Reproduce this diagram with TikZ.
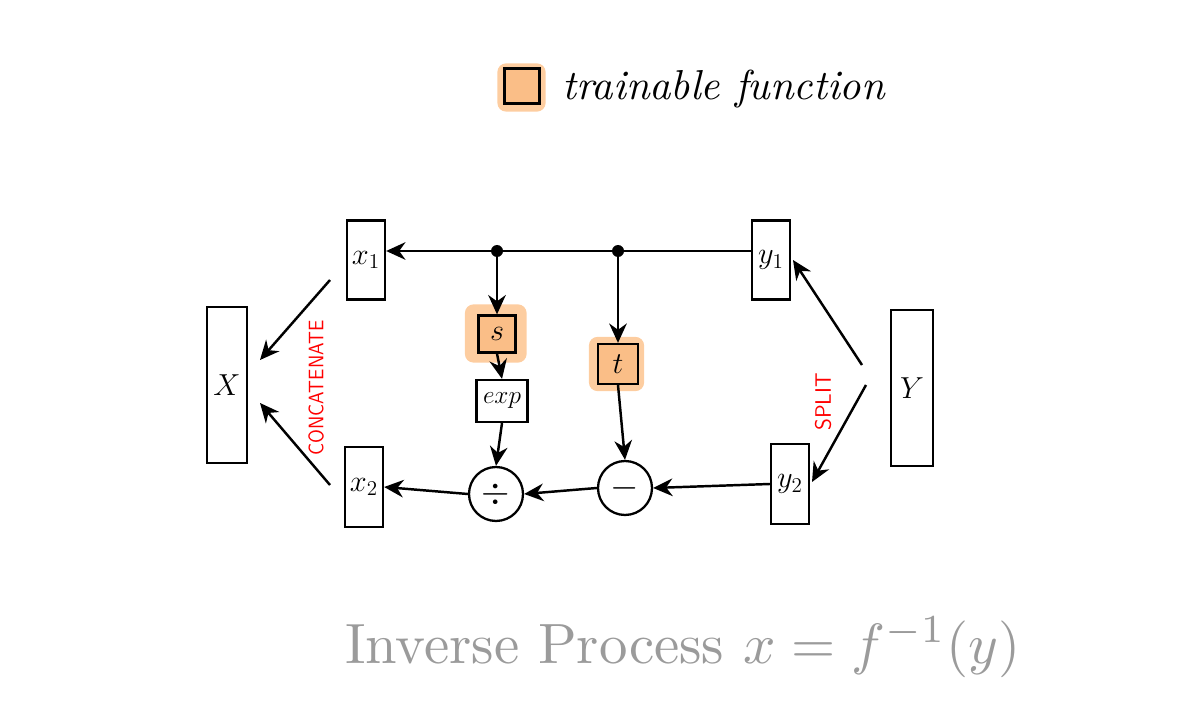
\documentclass[tikz,border=0pt]{standalone}
\usetikzlibrary{arrows.meta,backgrounds,calc}
\definecolor{orng}{RGB}{250,190,135}
\definecolor{halo}{RGB}{253,205,160}
\definecolor{txtgray}{RGB}{155,155,155}
\begin{document}
\begin{tikzpicture}[x=0.02cm,y=-0.02cm,
 box/.style={draw,line width=1.3pt,inner sep=0pt,font=\fontsize{18}{21}\selectfont},
 tbox/.style={box,fill=orng},
 op/.style={draw,circle,line width=1.3pt,inner sep=0pt,minimum size=1.08cm,font=\fontsize{20}{24}\selectfont},
 arr/.style={line width=1.4pt,-{Stealth[length=11pt,width=10pt]}},
 redlbl/.style={text=red,font=\sffamily,rotate=90,inner sep=0pt},
 dot/.style={fill=black}]
\useasboundingbox (0,0) rectangle (1193,722);

% legend
\node[tbox,minimum size=0.7cm] (leg) at (522,86) {};
\node[anchor=base west,inner sep=0pt] (legtxt) at (562,100) {\resizebox{6.45cm}{!}{\itshape trainable function}};

% boxes
\node[box,minimum width=0.8cm,minimum height=3.12cm] (X) at (227,385) {$X$};
\node[box,minimum width=0.76cm,minimum height=1.58cm] (x1) at (366,260) {$x_1$};
\node[box,minimum width=0.76cm,minimum height=1.6cm] (x2) at (364,487) {$x_2$};
\node[box,minimum width=0.76cm,minimum height=1.58cm] (y1) at (771,260) {$y_1$};
\node[box,minimum width=0.76cm,minimum height=1.6cm] (y2) at (790,484) {$y_2$};
\node[box,minimum width=0.84cm,minimum height=3.12cm] (Y) at (912,388) {$Y$};
\node[tbox,minimum size=0.74cm] (s) at (497,334) {$s$};
\node[box,minimum width=1.02cm,minimum height=0.84cm,font=\fontsize{15}{17}\selectfont] (exp) at (502,401) {$exp$};
\node[tbox,minimum size=0.8cm] (t) at (618,364) {$t$};
\node[op] (div) at (496,494) {$\div$};
\node[op] (minus) at (625,488) {$-$};

% halos
\begin{scope}[on background layer]
\fill[halo,rounded corners=5pt] ($(leg.south west)+(-0.12cm,-0.14cm)$) rectangle ($(leg.north east)+(0.1cm,0.08cm)$);
\fill[halo,rounded corners=5pt] ($(s.south west)+(-0.25cm,-0.18cm)$) rectangle ($(s.north east)+(0.2cm,0.2cm)$);
\fill[halo,rounded corners=5pt] ($(t.south west)+(-0.16cm,-0.12cm)$) rectangle ($(t.north east)+(0.1cm,0.12cm)$);
\end{scope}

% top line with branch points
\draw[arr] ([yshift=0.18cm]y1.west) -- ([yshift=0.18cm]x1.east) coordinate (top);
\coordinate (d1) at (top -| s.north);
\coordinate (d2) at (top -| t.north);
\fill[dot] (d1) circle (0.12cm);
\fill[dot] (d2) circle (0.12cm);
\draw[arr] (d1) -- (s.north);
\draw[arr] (d2) -- (t.north);
\draw[arr] (s.south) -- (exp.north);
\draw[arr] (exp.south) -- (div.north);
\draw[arr] (t.south) -- (minus.north);
\draw[arr] (y2.west) -- (minus.east);
\draw[arr] (minus.west) -- (div.east);
\draw[arr] (div.west) -- (x2.east);

% concatenate / split arrows
\coordinate (c1s) at (330,280);
\coordinate (c1e) at (260,360);
\coordinate (c2s) at (330,485);
\coordinate (c2e) at (260,403);
\draw[arr] (c1s) -- (c1e);
\draw[arr] (c2s) -- (c2e);
\coordinate (s1s) at (862,365);
\coordinate (s1e) at (793,260);
\coordinate (s2s) at (866,385);
\coordinate (s2e) at (812,482);
\draw[arr] (s1s) -- (s1e);
\draw[arr] (s2s) -- (s2e);

\node[redlbl] (concat) at (316,388) {\resizebox{2.7cm}{0.3cm}{CONCATENATE}};
\node[redlbl] (split) at (823,402) {\resizebox{1.15cm}{0.32cm}{SPLIT}};

% title
\node[anchor=base west,inner sep=0pt,text=txtgray] (title) at (345,663) {\resizebox{13.5cm}{!}{Inverse Process $x=f^{-1}(y)$}};
\end{tikzpicture}
\end{document}
